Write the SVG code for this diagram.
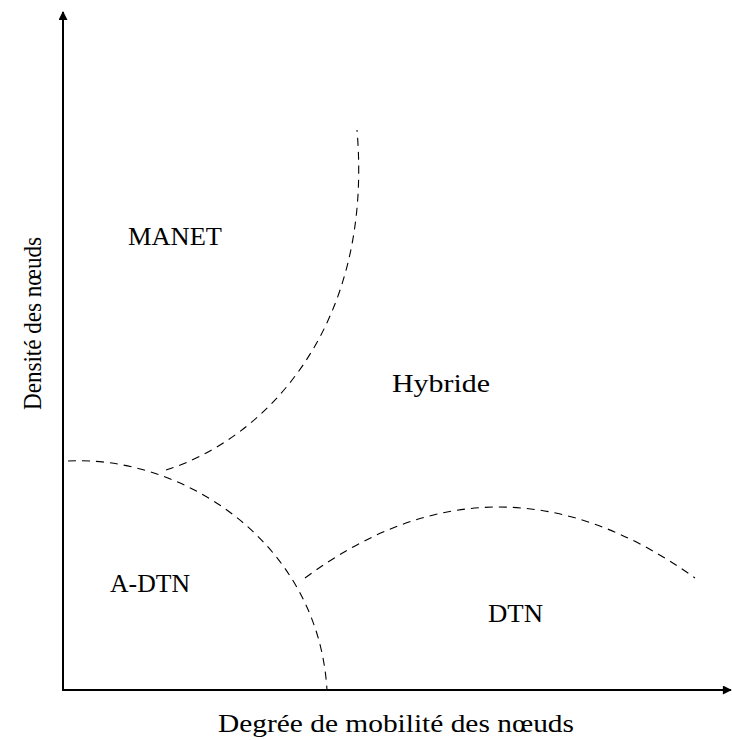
<svg xmlns="http://www.w3.org/2000/svg" width="732" height="740" viewBox="0 0 732 740">
<style>
.lbl{font-family:"Liberation Serif","DejaVu Serif",serif;font-size:26px;fill:#000}
.axis{stroke:#000;stroke-width:2;fill:none}
.bound{stroke:#000;stroke-width:1.1;fill:none;stroke-dasharray:8 6}
</style>
<defs>
<marker id="arr" viewBox="0 0 10 10" refX="9" refY="5" markerWidth="12" markerHeight="9" markerUnits="userSpaceOnUse" orient="auto">
<path d="M0,0 L10,5 L0,10 Z" fill="#000"/>
</marker>
</defs>
<g id="axes">
<line class="axis" x1="63" y1="690" x2="63" y2="12" marker-end="url(#arr)"/>
<line class="axis" x1="62" y1="690" x2="731" y2="690" marker-end="url(#arr)"/>
</g>
<g id="connectors">
<path class="bound" d="M68,461 C180,455 318,540 327,690"/>
<path class="bound" d="M166,470 C262,440 374,330 357,130"/>
<path class="bound" d="M305,578 Q497,436 695,578"/>
</g>
<g id="manet"><text class="lbl" x="128" y="245" textLength="94" lengthAdjust="spacingAndGlyphs">MANET</text></g>
<g id="hybride"><text class="lbl" x="392" y="392" textLength="98" lengthAdjust="spacingAndGlyphs">Hybride</text></g>
<g id="adtn"><text class="lbl" x="110" y="592" textLength="80" lengthAdjust="spacingAndGlyphs">A-DTN</text></g>
<g id="dtn"><text class="lbl" x="488" y="622" textLength="55" lengthAdjust="spacingAndGlyphs">DTN</text></g>
<g id="xlabel"><text class="lbl" x="218" y="732" textLength="356" lengthAdjust="spacingAndGlyphs">Degrée de mobilité des nœuds</text></g>
<g id="ylabel"><text class="lbl" transform="translate(41,410) rotate(-90)" x="0" y="0" textLength="173" lengthAdjust="spacingAndGlyphs">Densité des nœuds</text></g>
</svg>
